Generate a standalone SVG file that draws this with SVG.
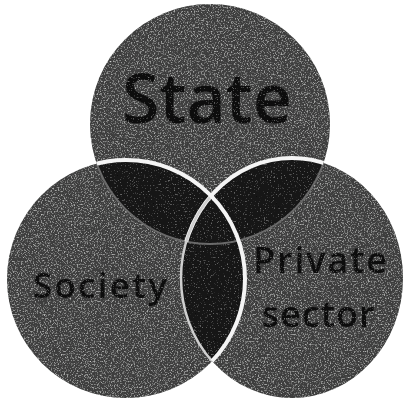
<svg xmlns="http://www.w3.org/2000/svg" width="406" height="401" viewBox="0 0 406 401">
  <style>
    .base { fill: #3d3e3d; }
    .ov { fill: #131313; }
    .lbl { font-family: "Open Sans", "DejaVu Sans", sans-serif; font-weight: 600; fill: #111111; text-anchor: middle; }
    .edge { fill: none; stroke: #f4f4f4; stroke-width: 4; }
    .edge2 { fill: none; stroke: #cfcfcf; stroke-width: 2.5; }
    .faint { fill: none; stroke: #6a6a6a; stroke-width: 2; }
  </style>
  <defs>
    <circle id="cState" cx="210" cy="124" r="120"/>
    <circle id="cSociety" cx="126" cy="279" r="119"/>
    <ellipse id="cPrivate" cx="292" cy="278" rx="111" ry="120"/>
    <clipPath id="inState"><use href="#cState"/></clipPath>
    <clipPath id="inSociety"><use href="#cSociety"/></clipPath>
    <clipPath id="inPrivate"><use href="#cPrivate"/></clipPath>
    <clipPath id="inStateOrPrivate"><use href="#cState"/><use href="#cPrivate"/></clipPath>
    <clipPath id="inSocietyOrPrivate"><use href="#cSociety"/><use href="#cPrivate"/></clipPath>
    <filter id="grain" filterUnits="userSpaceOnUse" x="0" y="0" width="406" height="401">
      <feTurbulence type="fractalNoise" baseFrequency="0.7" numOctaves="2" seed="7" result="noise"/>
      <feColorMatrix in="noise" type="matrix" values="0 0 0 0 0.64  0 0 0 0 0.65  0 0 0 0 0.64  2.3 0 0 0 -1.2" result="light"/>
      <feColorMatrix in="noise" type="matrix" values="0 0 0 0 0.08  0 0 0 0 0.08  0 0 0 0 0.08  -2.2 0 0 0 1.0" result="dark"/>
      <feComposite in="light" in2="SourceGraphic" operator="in" result="lightIn"/>
      <feComposite in="dark" in2="SourceGraphic" operator="in" result="darkIn"/>
      <feMerge>
        <feMergeNode in="SourceGraphic"/>
        <feMergeNode in="lightIn"/>
        <feMergeNode in="darkIn"/>
      </feMerge>
    </filter>
    <filter id="fine" filterUnits="userSpaceOnUse" x="0" y="0" width="406" height="401">
      <feTurbulence type="fractalNoise" baseFrequency="0.7" numOctaves="2" seed="11" result="noise"/>
      <feColorMatrix in="noise" type="matrix" values="0 0 0 0 0.35  0 0 0 0 0.35  0 0 0 0 0.35  2.0 0 0 0 -1.25" result="light"/>
      <feComposite in="light" in2="SourceGraphic" operator="in" result="lightIn"/>
      <feMerge>
        <feMergeNode in="SourceGraphic"/>
        <feMergeNode in="lightIn"/>
      </feMerge>
    </filter>
  </defs>
  <rect width="406" height="401" fill="#ffffff"/>
  <g filter="url(#grain)">
    <g id="state">
      <use href="#cState" class="base"/>
    </g>
    <g id="society">
      <use href="#cSociety" class="base"/>
    </g>
    <g id="private-sector">
      <use href="#cPrivate" class="base"/>
    </g>
  </g>
  <g id="overlaps" filter="url(#fine)">
    <use href="#cState" class="ov" clip-path="url(#inSociety)"/>
    <use href="#cState" class="ov" clip-path="url(#inPrivate)"/>
    <use href="#cSociety" class="ov" clip-path="url(#inPrivate)"/>
  </g>
  <g id="labels" filter="url(#fine)">
    <text class="lbl" x="207" y="123" font-size="68">State</text>
    <text class="lbl" x="100" y="298" font-size="35" font-weight="700" textLength="134" lengthAdjust="spacing">Society</text>
    <text class="lbl" x="320" y="273" font-size="36" textLength="134" lengthAdjust="spacing">Private</text>
    <text class="lbl" x="318" y="327" font-size="36" textLength="113" lengthAdjust="spacing">sector</text>
  </g>
  <g id="outlines">
    <use href="#cState" class="faint" clip-path="url(#inSocietyOrPrivate)"/>
    <use href="#cPrivate" class="edge" clip-path="url(#inState)"/>
    <use href="#cPrivate" class="edge2" clip-path="url(#inSociety)"/>
    <use href="#cSociety" class="edge" clip-path="url(#inStateOrPrivate)"/>
  </g>
</svg>
